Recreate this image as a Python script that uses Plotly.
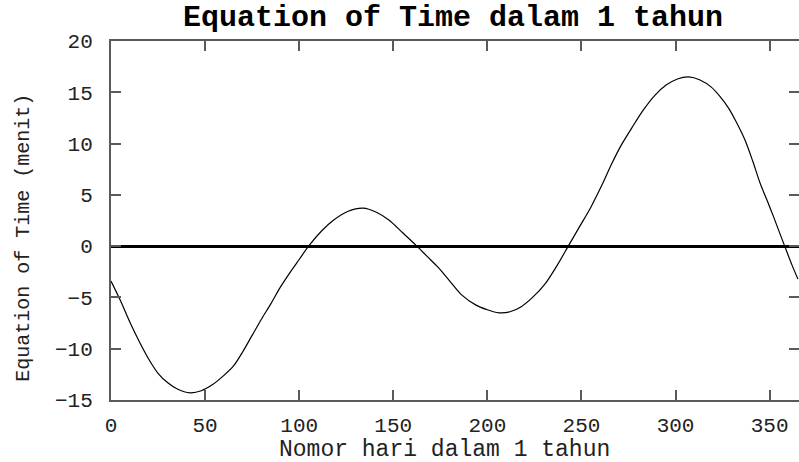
import plotly.graph_objects as go

# Day numbers and Equation of Time values (minutes)
days = [0, 5, 10, 15, 20, 25, 30, 35, 42, 48, 54, 60, 65, 70, 75, 80, 85, 90,
        95, 100, 105, 112, 118, 126, 134, 141, 148, 155, 162, 168, 174, 180,
        186, 194, 200, 206, 212, 218, 224, 231, 237, 243, 249, 255, 261, 266,
        271, 277, 283, 289, 295, 301, 307, 313, 319, 324, 328, 332, 337, 341,
        345, 349, 352, 358, 362, 365]
eot = [-3.4, -5.3, -7.4, -9.3, -11.0, -12.4, -13.3, -13.9, -14.3, -14.1, -13.5,
       -12.6, -11.7, -10.3, -8.7, -7.1, -5.6, -4.0, -2.6, -1.3, 0.0, 1.5, 2.5,
       3.4, 3.7, 3.3, 2.5, 1.3, 0.1, -1.0, -2.1, -3.4, -4.7, -5.75, -6.2, -6.5,
       -6.4, -5.9, -5.0, -3.6, -1.9, 0.0, 1.9, 3.8, 6.0, 8.0, 9.8, 11.6, 13.3,
       14.7, 15.7, 16.3, 16.5, 16.2, 15.5, 14.5, 13.5, 12.2, 10.3, 8.3, 6.1,
       4.3, 2.9, 0.0, -1.9, -3.2]

x_ticks = [0, 50, 100, 150, 200, 250, 300, 350]
y_ticks = [-15, -10, -5, 0, 5, 10, 15, 20]

title_text = "Equation of Time dalam 1 tahun"
x_title = "Nomor hari dalam 1 tahun"
y_title = "Equation of Time (menit)"

FONT = "Liberation Mono"

fig = go.Figure()
fig.add_trace(go.Scatter(
    x=days, y=eot, mode="lines",
    line=dict(color="black", width=1.2, shape="spline", smoothing=0.8),
    hoverinfo="skip", showlegend=False,
))

axis_common = dict(
    showline=True, linecolor="#5a5a5a", linewidth=2, mirror="ticks",
    ticks="inside", ticklen=10, tickwidth=2, tickcolor="#5a5a5a",
    showgrid=False, automargin=False,
    tickfont=dict(family=FONT, size=21, color="#222"),
)

fig.update_layout(
    width=799, height=462,
    margin=dict(l=111, r=0, t=41, b=62),
    paper_bgcolor="white", plot_bgcolor="white",
    showlegend=False,
    xaxis=dict(range=[0, 365.6], tickvals=x_ticks, ticklabelstandoff=5,
               zeroline=False, **axis_common),
    yaxis=dict(range=[-15, 20], tickvals=y_ticks, ticklabelstandoff=12,
               zeroline=True, zerolinecolor="black", zerolinewidth=3,
               **axis_common),
    annotations=[
        dict(text="<b>" + title_text + "</b>", xref="paper", yref="paper",
             x=0.497, y=1.064, xanchor="center", yanchor="middle",
             showarrow=False, font=dict(family=FONT, size=30, color="black")),
        dict(text=x_title, xref="paper", yref="paper",
             x=0.485, y=-0.1393, xanchor="center", yanchor="middle",
             showarrow=False, font=dict(family=FONT, size=23, color="#222")),
        dict(text=y_title, xref="paper", yref="paper", textangle=-90,
             x=-0.1275, y=0.4526, xanchor="center", yanchor="middle",
             showarrow=False, font=dict(family=FONT, size=20, color="#222")),
    ],
)

fig.write_html(
    "out.html",
    config={"displayModeBar": False, "staticPlot": True},
    post_script="document.body.style.margin='0';document.body.style.overflow='hidden';",
)
